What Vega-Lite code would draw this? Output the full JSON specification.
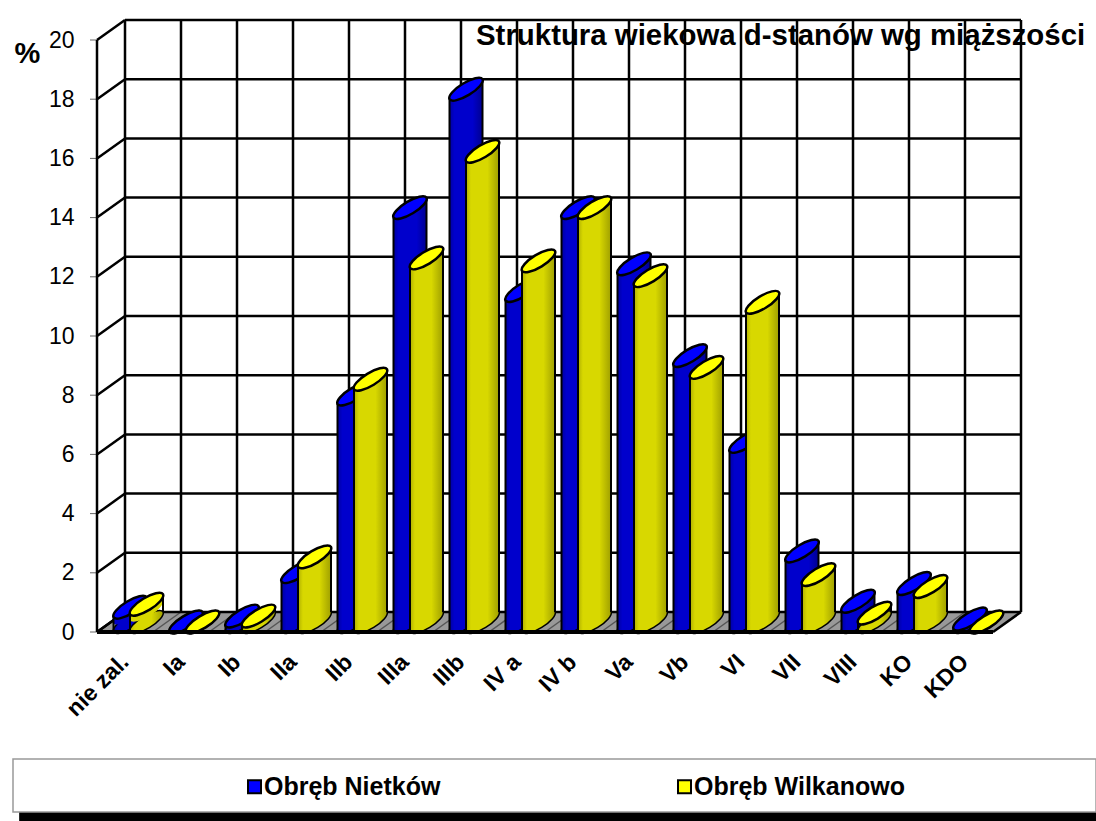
{"$schema":"https://vega.github.io/schema/vega-lite/v6.json","width":896,"height":592,"autosize":{"type":"none"},"padding":{"left":97,"top":40,"right":103,"bottom":189},"background":"white",
"title":{"text":"Struktura wiekowa d-stanów wg miąższości","anchor":"start","frame":"group","dx":379,"dy":33,"offset":0,"fontSize":29.4,"font":"Liberation Sans","fontWeight":"bold","color":"black"},
"datasets":{
"bars":[
{"cat":"nie zal.","series":"Obręb Nietków","value":0.5},{"cat":"Ia","series":"Obręb Nietków","value":0},{"cat":"Ib","series":"Obręb Nietków","value":0.2},{"cat":"IIa","series":"Obręb Nietków","value":1.7},{"cat":"IIb","series":"Obręb Nietków","value":7.7},{"cat":"IIIa","series":"Obręb Nietków","value":14},{"cat":"IIIb","series":"Obręb Nietków","value":18},{"cat":"IV a","series":"Obręb Nietków","value":11.2},{"cat":"IV b","series":"Obręb Nietków","value":14},{"cat":"Va","series":"Obręb Nietków","value":12.1},{"cat":"Vb","series":"Obręb Nietków","value":9},{"cat":"VI","series":"Obręb Nietków","value":6.1},{"cat":"VII","series":"Obręb Nietków","value":2.4},{"cat":"VIII","series":"Obręb Nietków","value":0.7},{"cat":"KO","series":"Obręb Nietków","value":1.3},{"cat":"KDO","series":"Obręb Nietków","value":0.1},
{"cat":"nie zal.","series":"Obręb Wilkanowo","value":0.6},{"cat":"Ia","series":"Obręb Wilkanowo","value":0},{"cat":"Ib","series":"Obręb Wilkanowo","value":0.2},{"cat":"IIa","series":"Obręb Wilkanowo","value":2.2},{"cat":"IIb","series":"Obręb Wilkanowo","value":8.2},{"cat":"IIIa","series":"Obręb Wilkanowo","value":12.3},{"cat":"IIIb","series":"Obręb Wilkanowo","value":15.9},{"cat":"IV a","series":"Obręb Wilkanowo","value":12.2},{"cat":"IV b","series":"Obręb Wilkanowo","value":14},{"cat":"Va","series":"Obręb Wilkanowo","value":11.7},{"cat":"Vb","series":"Obręb Wilkanowo","value":8.6},{"cat":"VI","series":"Obręb Wilkanowo","value":10.8},{"cat":"VII","series":"Obręb Wilkanowo","value":1.6},{"cat":"VIII","series":"Obręb Wilkanowo","value":0.3},{"cat":"KO","series":"Obręb Wilkanowo","value":1.2},{"cat":"KDO","series":"Obręb Wilkanowo","value":0}],
"ticks":[{"t":0},{"t":2},{"t":4},{"t":6},{"t":8},{"t":10},{"t":12},{"t":14},{"t":16},{"t":18},{"t":20}],
"slots":[{"s":0},{"s":1},{"s":2},{"s":3},{"s":4},{"s":5},{"s":6},{"s":7},{"s":8},{"s":9},{"s":10},{"s":11},{"s":12},{"s":13},{"s":14},{"s":15},{"s":16}],
"floor":[{"s":0,"a":0,"b":0},{"s":0.5,"a":0.68,"b":0},{"s":16,"a":0.68,"b":0},{"s":16.5,"a":0.68,"b":0.68}],
"frame":[{"x1":-1.39,"x2":18,"y1":-6.08,"y2":-6.5,"kind":"bar"},{"x1":-1.5,"x2":17.84,"y1":-4.29,"y2":-6.08,"kind":"box"}]
},
"layer":[
{"layer":[
{"data":{"name":"frame"},"transform":[{"filter":"datum.kind==='bar'"}],"mark":{"type":"rect","color":"black"},"encoding":{"x":{"field":"x1","type":"quantitative","scale":{"domain":[0,16],"nice":false,"zero":false},"axis":null},"x2":{"field":"x2"},"y":{"field":"y1","type":"quantitative","axis":null},"y2":{"field":"y2"}}},
{"data":{"name":"frame"},"transform":[{"filter":"datum.kind==='box'"}],"mark":{"type":"rect","fill":"white","stroke":"#999999","strokeWidth":1.5},"encoding":{"x":{"field":"x1","type":"quantitative","axis":null},"x2":{"field":"x2"},"y":{"field":"y1","type":"quantitative","axis":null},"y2":{"field":"y2"}}},
{"data":{"name":"floor"},"mark":{"type":"area","color":"#999999","interpolate":"linear"},"encoding":{"x":{"field":"s","type":"quantitative","axis":null},"y":{"field":"a","type":"quantitative","axis":null,"stack":null},"y2":{"field":"b"}}},
{"data":{"name":"slots"},"transform":[{"filter":"datum.s>0 && datum.s<16"}],"mark":{"type":"rule","color":"#555555","strokeWidth":1.5,"x2Offset":28,"y2Offset":-20},"encoding":{"x":{"field":"s","type":"quantitative","axis":null},"x2":{"field":"s"},"y":{"datum":0,"type":"quantitative","axis":null},"y2":{"datum":0}}},
{"data":{"name":"slots"},"transform":[{"filter":"datum.s===0 || datum.s===16"}],"mark":{"type":"rule","color":"black","strokeWidth":2.5,"x2Offset":28,"y2Offset":-20},"encoding":{"x":{"field":"s","type":"quantitative","axis":null},"x2":{"field":"s"},"y":{"datum":0,"type":"quantitative","axis":null},"y2":{"datum":0}}},
{"data":{"name":"slots"},"mark":{"type":"rule","color":"black","strokeWidth":2.5,"xOffset":28,"yOffset":-20,"y2Offset":-20},"encoding":{"x":{"field":"s","type":"quantitative","axis":null},"y":{"datum":0,"type":"quantitative","axis":null},"y2":{"datum":20}}},
{"data":{"name":"ticks"},"mark":{"type":"rule","color":"black","strokeWidth":2.5,"xOffset":28,"x2Offset":28,"yOffset":-20},"encoding":{"x":{"datum":0,"type":"quantitative","axis":null},"x2":{"datum":16},"y":{"field":"t","type":"quantitative","scale":{"domain":[0,20],"nice":false,"zero":false},"axis":{"values":[0,2,4,6,8,10,12,14,16,18,20],"grid":false,"domain":false,"ticks":false,"labelFont":"Liberation Sans","labelFontSize":23,"labelColor":"black","labelPadding":23,"title":"%","titleAngle":0,"titleFont":"Liberation Sans","titleFontSize":29,"titleFontWeight":"bold","titleColor":"black","titleX":-70,"titleY":28,"titleAlign":"center"}}}},
{"data":{"name":"ticks"},"mark":{"type":"rule","color":"black","strokeWidth":2.5,"x2Offset":28,"y2Offset":-20},"encoding":{"x":{"datum":0,"type":"quantitative","axis":null},"x2":{"datum":0},"y":{"field":"t","type":"quantitative","axis":null},"y2":{"field":"t"}}},
{"data":{"name":"ticks"},"mark":{"type":"rule","color":"#666666","strokeWidth":1,"xOffset":-7,"x2Offset":0},"encoding":{"x":{"datum":0,"type":"quantitative","axis":null},"x2":{"datum":0},"y":{"field":"t","type":"quantitative","axis":null}}},
{"mark":{"type":"rule","color":"black","strokeWidth":2.5},"data":{"values":[{"z":0}]},"encoding":{"x":{"datum":0,"type":"quantitative","axis":null},"y":{"datum":0,"type":"quantitative","axis":null},"y2":{"datum":20}}}
],"resolve":{"axis":{"x":"independent","y":"independent"}}},
{"data":{"name":"bars"},"layer":[
{"transform":[{"filter":"datum.series==='Obręb Nietków'"}],"mark":{"type":"point","shape":"M0.97 -0.59C0.8651 -0.7667 0.3457 -0.6459 -0.19 -0.32C-0.7257 0.0059 -1.0749 0.4133 -0.97 0.59C-0.8651 0.7667 -0.3457 0.6459 0.19 0.32C0.7257 -0.0059 1.0749 -0.4133 0.97 -0.59Z","size":1156,"filled":true,"fill":{"gradient":"linear","x1":0,"x2":1,"y1":0,"y2":0,"stops":[{"offset":0,"color":"#0000a0"},{"offset":0.15,"color":"#0000cc"},{"offset":0.7,"color":"#0000cc"},{"offset":1,"color":"#000090"}]},"stroke":"black","strokeWidth":1.5,"opacity":1,"xOffset":5,"yOffset":-10},"encoding":{"x":{"field":"cat","type":"nominal","sort":null,"scale":{"type":"band","domain":["nie zal.","Ia","Ib","IIa","IIb","IIIa","IIIb","IV a","IV b","Va","Vb","VI","VII","VIII","KO","KDO"],"paddingInner":0,"paddingOuter":0},"axis":{"title":null,"labelAngle":-45,"labelAlign":"right","labelBaseline":"middle","labelFont":"Liberation Sans","labelFontSize":23,"labelFontWeight":"bold","labelColor":"black","labelPadding":26,"ticks":false,"domain":false,"grid":false}},"y":{"datum":0,"type":"quantitative","axis":null}}},
{"transform":[{"filter":"datum.series==='Obręb Nietków' && datum.value>=0.68"}],"mark":{"type":"point","shape":"M-0.97 0.59L0.97 -0.59L0.97 -0.65L-0.97 -0.65Z","size":1156,"filled":true,"fill":{"gradient":"linear","x1":0,"x2":1,"y1":0,"y2":0,"stops":[{"offset":0,"color":"#0000a0"},{"offset":0.15,"color":"#0000cc"},{"offset":0.7,"color":"#0000cc"},{"offset":1,"color":"#000090"}]},"opacity":1,"xOffset":5,"yOffset":-10},"encoding":{"x":{"field":"cat","type":"nominal","sort":null,"axis":null},"y":{"datum":0,"type":"quantitative","axis":null}}},
{"transform":[{"filter":"datum.series==='Obręb Nietków' && datum.value>=0.68"}],"mark":{"type":"bar","width":33,"xOffset":5,"color":{"gradient":"linear","x1":0,"x2":1,"y1":0,"y2":0,"stops":[{"offset":0,"color":"#0000a0"},{"offset":0.15,"color":"#0000cc"},{"offset":0.7,"color":"#0000cc"},{"offset":1,"color":"#000090"}]}},"encoding":{"x":{"field":"cat","type":"nominal","sort":null,"axis":null},"y":{"field":"value","type":"quantitative","axis":null,"stack":null},"y2":{"datum":0.68}}},
{"transform":[{"filter":"datum.series==='Obręb Nietków' && datum.value>=0.68"}],"mark":{"type":"point","shape":"M-0.97 0.59L0.97 -0.59L0.97 0.65L-0.97 0.65Z","size":1156,"filled":true,"fill":{"gradient":"linear","x1":0,"x2":1,"y1":0,"y2":0,"stops":[{"offset":0,"color":"#0000a0"},{"offset":0.15,"color":"#0000cc"},{"offset":0.7,"color":"#0000cc"},{"offset":1,"color":"#000090"}]},"opacity":1,"xOffset":5,"yOffset":-10},"encoding":{"x":{"field":"cat","type":"nominal","sort":null,"axis":null},"y":{"field":"value","type":"quantitative","axis":null}}},
{"transform":[{"filter":"datum.series==='Obręb Nietków' && datum.value>=0.4 && datum.value<0.68"}],"mark":{"type":"point","shape":"M0.97 -0.59C0.8651 -0.7667 0.3457 -0.6459 -0.19 -0.32C-0.7257 0.0059 -1.0749 0.4133 -0.97 0.59C-0.8651 0.7667 -0.3457 0.6459 0.19 0.32C0.7257 -0.0059 1.0749 -0.4133 0.97 -0.59Z","size":1156,"filled":true,"fill":"#0000cc","opacity":1,"xOffset":5,"yOffset":-4},"encoding":{"x":{"field":"cat","type":"nominal","sort":null,"axis":null},"y":{"field":"value","type":"quantitative","axis":null}}},
{"transform":[{"filter":"datum.series==='Obręb Nietków'"}],"mark":{"type":"rule","color":"black","strokeWidth":2,"xOffset":-11.5},"encoding":{"x":{"field":"cat","type":"nominal","sort":null,"axis":null},"y":{"field":"value","type":"quantitative","axis":null},"y2":{"datum":0}}},
{"transform":[{"filter":"datum.series==='Obręb Nietków'"}],"mark":{"type":"rule","color":"black","strokeWidth":2,"xOffset":21.5,"yOffset":-20,"y2Offset":-20},"encoding":{"x":{"field":"cat","type":"nominal","sort":null,"axis":null},"y":{"field":"value","type":"quantitative","axis":null},"y2":{"datum":0}}},
{"transform":[{"filter":"datum.series==='Obręb Nietków'"}],"mark":{"type":"point","shape":"M0.97 -0.59C0.8651 -0.7667 0.3457 -0.6459 -0.19 -0.32C-0.7257 0.0059 -1.0749 0.4133 -0.97 0.59C-0.8651 0.7667 -0.3457 0.6459 0.19 0.32C0.7257 -0.0059 1.0749 -0.4133 0.97 -0.59Z","size":1156,"filled":true,"stroke":"black","strokeWidth":2.5,"opacity":1,"xOffset":5,"yOffset":-10},"encoding":{"x":{"field":"cat","type":"nominal","sort":null,"axis":null},"y":{"field":"value","type":"quantitative","axis":null},"color":{"field":"series","type":"nominal","scale":{"domain":["Obręb Nietków","Obręb Wilkanowo"],"range":["#0000ff","#ffff00"]},"legend":{"orient":"none","legendX":145,"legendY":734,"columns":2,"columnPadding":231,"title":null,"symbolType":"square","symbolSize":169,"symbolStrokeColor":"black","symbolStrokeWidth":2,"symbolOpacity":1,"labelFont":"Liberation Sans","labelFontSize":25,"labelFontWeight":"bold","labelColor":"black","labelOffset":-3,"labelLimit":400}}}},
{"transform":[{"filter":"datum.series==='Obręb Wilkanowo'"}],"mark":{"type":"point","shape":"M0.97 -0.59C0.8651 -0.7667 0.3457 -0.6459 -0.19 -0.32C-0.7257 0.0059 -1.0749 0.4133 -0.97 0.59C-0.8651 0.7667 -0.3457 0.6459 0.19 0.32C0.7257 -0.0059 1.0749 -0.4133 0.97 -0.59Z","size":1156,"filled":true,"fill":{"gradient":"linear","x1":0,"x2":1,"y1":0,"y2":0,"stops":[{"offset":0,"color":"#b0b000"},{"offset":0.15,"color":"#d8d800"},{"offset":0.65,"color":"#d8d800"},{"offset":1,"color":"#a0a000"}]},"stroke":"black","strokeWidth":1.5,"opacity":1,"xOffset":21.5,"yOffset":-10},"encoding":{"x":{"field":"cat","type":"nominal","sort":null,"axis":null},"y":{"datum":0,"type":"quantitative","axis":null}}},
{"transform":[{"filter":"datum.series==='Obręb Wilkanowo' && datum.value>=0.68"}],"mark":{"type":"point","shape":"M-0.97 0.59L0.97 -0.59L0.97 -0.65L-0.97 -0.65Z","size":1156,"filled":true,"fill":{"gradient":"linear","x1":0,"x2":1,"y1":0,"y2":0,"stops":[{"offset":0,"color":"#b0b000"},{"offset":0.15,"color":"#d8d800"},{"offset":0.65,"color":"#d8d800"},{"offset":1,"color":"#a0a000"}]},"opacity":1,"xOffset":21.5,"yOffset":-10},"encoding":{"x":{"field":"cat","type":"nominal","sort":null,"axis":null},"y":{"datum":0,"type":"quantitative","axis":null}}},
{"transform":[{"filter":"datum.series==='Obręb Wilkanowo' && datum.value>=0.68"}],"mark":{"type":"bar","width":33,"xOffset":21.5,"color":{"gradient":"linear","x1":0,"x2":1,"y1":0,"y2":0,"stops":[{"offset":0,"color":"#b0b000"},{"offset":0.15,"color":"#d8d800"},{"offset":0.65,"color":"#d8d800"},{"offset":1,"color":"#a0a000"}]}},"encoding":{"x":{"field":"cat","type":"nominal","sort":null,"axis":null},"y":{"field":"value","type":"quantitative","axis":null,"stack":null},"y2":{"datum":0.68}}},
{"transform":[{"filter":"datum.series==='Obręb Wilkanowo' && datum.value>=0.68"}],"mark":{"type":"point","shape":"M-0.97 0.59L0.97 -0.59L0.97 0.65L-0.97 0.65Z","size":1156,"filled":true,"fill":{"gradient":"linear","x1":0,"x2":1,"y1":0,"y2":0,"stops":[{"offset":0,"color":"#b0b000"},{"offset":0.15,"color":"#d8d800"},{"offset":0.65,"color":"#d8d800"},{"offset":1,"color":"#a0a000"}]},"opacity":1,"xOffset":21.5,"yOffset":-10},"encoding":{"x":{"field":"cat","type":"nominal","sort":null,"axis":null},"y":{"field":"value","type":"quantitative","axis":null}}},
{"transform":[{"filter":"datum.series==='Obręb Wilkanowo' && datum.value>=0.4 && datum.value<0.68"}],"mark":{"type":"point","shape":"M0.97 -0.59C0.8651 -0.7667 0.3457 -0.6459 -0.19 -0.32C-0.7257 0.0059 -1.0749 0.4133 -0.97 0.59C-0.8651 0.7667 -0.3457 0.6459 0.19 0.32C0.7257 -0.0059 1.0749 -0.4133 0.97 -0.59Z","size":1156,"filled":true,"fill":"#d8d800","opacity":1,"xOffset":21.5,"yOffset":-4},"encoding":{"x":{"field":"cat","type":"nominal","sort":null,"axis":null},"y":{"field":"value","type":"quantitative","axis":null}}},
{"transform":[{"filter":"datum.series==='Obręb Wilkanowo'"}],"mark":{"type":"rule","color":"black","strokeWidth":2,"xOffset":5},"encoding":{"x":{"field":"cat","type":"nominal","sort":null,"axis":null},"y":{"field":"value","type":"quantitative","axis":null},"y2":{"datum":0}}},
{"transform":[{"filter":"datum.series==='Obręb Wilkanowo'"}],"mark":{"type":"rule","color":"black","strokeWidth":2,"xOffset":38,"yOffset":-20,"y2Offset":-20},"encoding":{"x":{"field":"cat","type":"nominal","sort":null,"axis":null},"y":{"field":"value","type":"quantitative","axis":null},"y2":{"datum":0}}},
{"transform":[{"filter":"datum.series==='Obręb Wilkanowo'"}],"mark":{"type":"point","shape":"M0.97 -0.59C0.8651 -0.7667 0.3457 -0.6459 -0.19 -0.32C-0.7257 0.0059 -1.0749 0.4133 -0.97 0.59C-0.8651 0.7667 -0.3457 0.6459 0.19 0.32C0.7257 -0.0059 1.0749 -0.4133 0.97 -0.59Z","size":1156,"filled":true,"stroke":"black","strokeWidth":2.5,"opacity":1,"xOffset":21.5,"yOffset":-10},"encoding":{"x":{"field":"cat","type":"nominal","sort":null,"axis":null},"y":{"field":"value","type":"quantitative","axis":null},"color":{"field":"series","type":"nominal"}}},
{"mark":{"type":"rule","color":"black","strokeWidth":3},"encoding":{"y":{"datum":0,"type":"quantitative","axis":null}}}
],"resolve":{"axis":{"x":"independent","y":"independent"}}}
],
"resolve":{"scale":{"x":"independent"},"axis":{"x":"independent","y":"independent"}},
"config":{"view":{"stroke":null},"style":{"guide-label":{"font":"Liberation Sans"}}}
}
